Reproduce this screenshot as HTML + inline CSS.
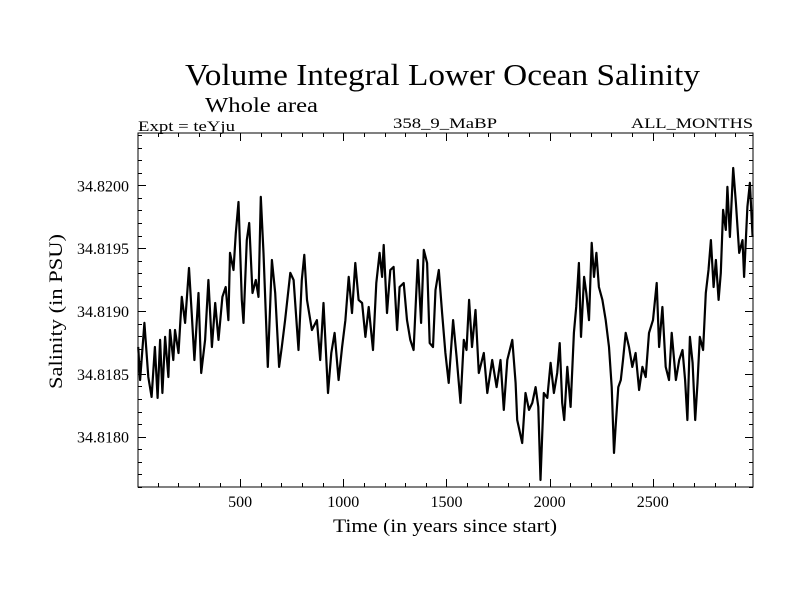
<!DOCTYPE html>
<html><head><meta charset="utf-8"><style>
html,body{margin:0;padding:0;background:#fff;}
svg{display:block;font-family:"Liberation Serif",serif;}
</style></head><body>
<svg id="chart" width="800" height="600" viewBox="0 0 800 600" xmlns="http://www.w3.org/2000/svg">
<rect width="800" height="600" fill="#fff"/>
<text x="185" y="85" font-size="31" textLength="515" lengthAdjust="spacingAndGlyphs">Volume Integral Lower Ocean Salinity</text>
<text x="205" y="112" font-size="21" textLength="113" lengthAdjust="spacingAndGlyphs">Whole area</text>
<text x="138" y="131" font-size="15" textLength="97" lengthAdjust="spacingAndGlyphs">Expt = teYju</text>
<text x="393" y="128" font-size="15" textLength="104" lengthAdjust="spacingAndGlyphs">358_9_MaBP</text>
<text x="631" y="128" font-size="15" textLength="122" lengthAdjust="spacingAndGlyphs">ALL_MONTHS</text>
<text x="333" y="532" font-size="19" textLength="224" lengthAdjust="spacingAndGlyphs">Time (in years since start)</text>
<text transform="translate(62,389) rotate(-90)" font-size="19" textLength="155" lengthAdjust="spacingAndGlyphs">Salinity (in PSU)</text>
<g id="ticks"></g>
<g id="series"></g>
<rect x="138" y="133" width="615" height="354" fill="none" stroke="#000" stroke-width="1"/>
</svg>
<script>
const years = [6,15,36,55,71,87,100,112,123,136,152,160,176,184,201,217,233,252,265,278,298,311,330,346,363,379,395,414,430,443,451,468,479,492,508,516,532,544,560,576,589,600,613,634,654,670,689,702,718,743,759,783,799,811,824,848,872,888,904,926,942,958,977,994,
1010,1026,1042,1058,1074,1091,1107,1123,1144,1160,1176,1188,1196,1212,1228,1244,1261,1273,1293,1309,1325,1341,1361,1377,1390,1406,1419,1435,1447,1463,1479,1495,1511,1532,1549,1568,1584,1597,1610,1624,1641,1657,1681,1698,1722,1743,1762,1778,1795,1819,1835,1843,1867,1883,1900,1916,1932,1945,1956,1972,1989,
2005,2021,2037,2049,2061,2071,2086,2102,2118,2129,2142,2152,2167,2178,2191,2204,2215,2227,2239,2256,2272,2288,2301,2312,2320,2333,2345,2356,2369,2385,2401,2417,2434,2450,2466,2482,2501,2519,2531,2547,2563,2579,2592,2612,2628,2644,2657,2668,2680,2693,2706,2717,2728,2744,2757,2770,2782,2795,2806,2819,2830,2841,2854,2862,2874,2890,2903,2919,2935,2943,2959,2971,2984];
const salinity = [34.818714,34.818451,34.818905,34.818475,34.818317,34.818714,34.818309,34.818770,34.818348,34.818794,34.818475,34.818849,34.818610,34.818849,34.818666,34.819112,34.818905,34.819342,34.818984,34.818610,34.819143,34.818507,34.818770,34.819247,34.818714,34.819064,34.818770,34.819112,34.819191,34.818928,34.819462,34.819326,34.819620,34.819867,34.819088,34.818905,34.819564,34.819700,34.819143,34.819247,34.819112,34.819908,34.819462,34.818555,34.819406,34.819143,34.818555,34.818714,34.818928,34.819303,34.819247,34.818690,34.819247,34.819446,34.819088,34.818849,34.818928,34.818610,34.819064,34.818348,34.818666,34.818826,34.818451,34.818714,
34.818928,34.819271,34.818984,34.819382,34.819088,34.819064,34.818794,34.819032,34.818690,34.819223,34.819462,34.819271,34.819525,34.818984,34.819326,34.819351,34.818849,34.819191,34.819223,34.818928,34.818770,34.818690,34.819406,34.818905,34.819486,34.819382,34.818745,34.818714,34.819167,34.819326,34.818984,34.818666,34.818428,34.818928,34.818634,34.818269,34.818770,34.818690,34.819088,34.818714,34.819008,34.818507,34.818666,34.818348,34.818610,34.818395,34.818610,34.818213,34.818610,34.818770,34.818428,34.818133,34.817950,34.818348,34.818213,34.818269,34.818395,34.818237,34.817656,34.818348,34.818309,
34.818587,34.818348,34.818507,34.818745,34.818269,34.818133,34.818555,34.818237,34.818826,34.819032,34.819382,34.818794,34.819271,34.819143,34.818928,34.819542,34.819271,34.819462,34.819191,34.819088,34.818928,34.818714,34.818395,34.817871,34.818078,34.818395,34.818451,34.818610,34.818826,34.818714,34.818555,34.818666,34.818372,34.818555,34.818475,34.818826,34.818928,34.819223,34.818714,34.819032,34.818555,34.818451,34.818826,34.818451,34.818610,34.818690,34.818451,34.818133,34.818794,34.818587,34.818133,34.818428,34.818794,34.818690,34.819143,34.819326,34.819564,34.819191,34.819406,34.819088,34.819303,34.819804,34.819645,34.819987,34.819589,34.820138,34.819860,34.819462,34.819564,34.819271,34.819828,34.820019,34.819589];
const xTickValues = [500,1000,1500,2000,2500];
const xTickLabels = ["500","1000","1500","2000","2500"];
const yTickValues = [34.8180,34.8185,34.8190,34.8195,34.8200];
const yTickLabels = ["34.8180","34.8185","34.8190","34.8195","34.8200"];

const X0=138,X1=753,Y0=133,Y1=487;
const xMax=2985;
function xs(v){return 137 + v*0.2063;}
function ys(v){return 185.3 + (34.8200 - v)/0.000007955;}
const yMin = 34.8200 - (Y1-185.3)*0.000007955, yMax = 34.8200 + (185.3-Y0)*0.000007955;
const NS="http://www.w3.org/2000/svg";
const tg=document.getElementById('ticks');
function line(x1,y1,x2,y2){const l=document.createElementNS(NS,'line');l.setAttribute('x1',x1);l.setAttribute('y1',y1);l.setAttribute('x2',x2);l.setAttribute('y2',y2);l.setAttribute('stroke','#000');l.setAttribute('stroke-width','1');tg.appendChild(l);return l;}
for(let v=100; v<xMax; v+=100){
  const major = v%500===0; const x=Math.round(xs(v))+0.5; const len=major?8:4;
  const a=line(x,Y1,x,Y1-len);
  
  
  const b=line(x,Y0,x,Y0+len);
  
  
}
xTickValues.forEach((v,i)=>{
  const t=document.createElementNS(NS,'text');
  t.setAttribute('x',xs(v));t.setAttribute('y',507);t.setAttribute('font-size','16');t.setAttribute('text-anchor','middle');
  t.textContent=xTickLabels[i];
  
  
  tg.appendChild(t);
});
for(let k=Math.ceil(yMin/0.0001); k*0.0001<=yMax; k++){
  const v=k*0.0001; const major=(k%5===0); const y=Math.round(ys(v))+0.5; const len=major?8:4;
  const a=line(X0,y,X0+len,y);
  
  
  const b=line(X1,y,X1-len,y);
  
  
}
yTickValues.forEach((v,i)=>{
  const t=document.createElementNS(NS,'text');
  t.setAttribute('x',129);t.setAttribute('y',ys(v)+6);t.setAttribute('font-size','16');t.setAttribute('text-anchor','end');
  t.textContent=yTickLabels[i];
  
  
  tg.appendChild(t);
});
const p=document.createElementNS(NS,'polyline');
p.setAttribute('points',years.map((y,i)=>xs(y).toFixed(1)+','+ys(salinity[i]).toFixed(1)).join(' '));
p.setAttribute('fill','none');p.setAttribute('stroke','#000');p.setAttribute('stroke-width','2.2');p.setAttribute('stroke-linejoin','round');


document.getElementById('series').appendChild(p);
</script>
</body></html>
